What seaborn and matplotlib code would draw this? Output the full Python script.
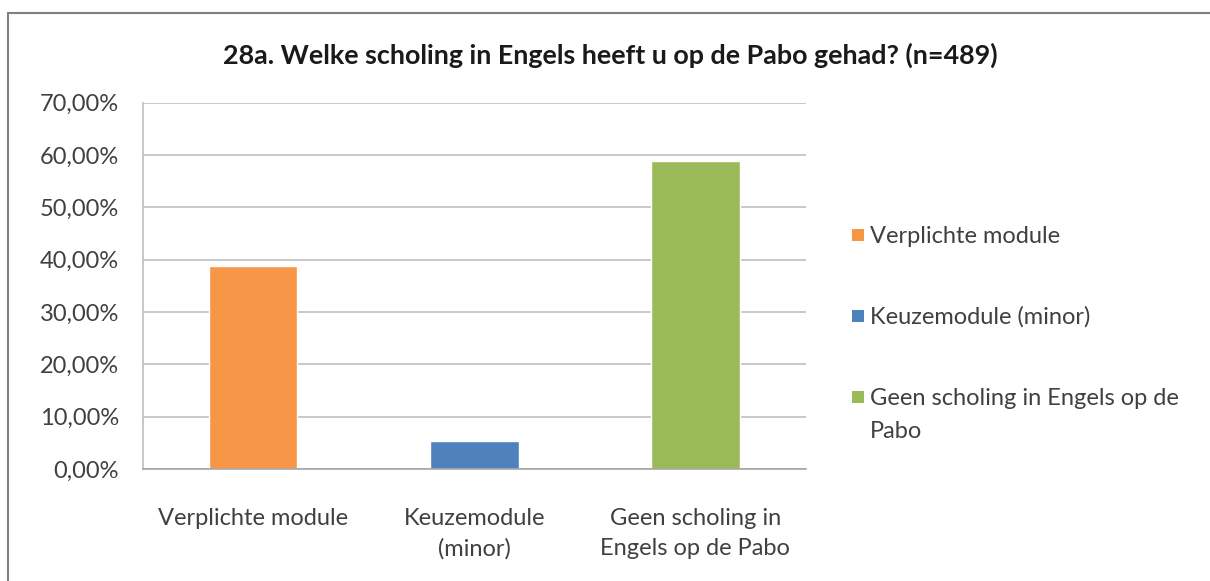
import pandas as pd
import matplotlib.pyplot as plt
import seaborn as sns
from matplotlib.patches import Rectangle
from matplotlib.lines import Line2D

# Chart data
categories = ["Verplichte module", "Keuzemodule (minor)", "Geen scholing in Engels op de Pabo"]
tick_labels = ["Verplichte module", "Keuzemodule\n(minor)", "Geen scholing in\nEngels op de Pabo"]
legend_labels = ["Verplichte module", "Keuzemodule (minor)", "Geen scholing in Engels op de\nPabo"]
percentages = [38.8, 5.4, 58.9]
colors = ["#F79646", "#4F81BD", "#9BBB59"]

df = pd.DataFrame({"category": categories, "pct": percentages})

sns.set_style("white")
plt.rcParams['font.family'] = ['Lato', 'DejaVu Sans']

W, H = 1210, 581
fig = plt.figure(figsize=(W / 100, H / 100), dpi=100)
ax = fig.add_axes([0.118, 0.193, 0.548, 0.630])

sns.barplot(data=df, x="category", y="pct", hue="category", palette=colors,
            width=0.4, legend=False, ax=ax, saturation=1)

ax.set_ylim(0, 70)
ax.set_xlim(-0.5, 2.5)
ax.set_yticks(range(0, 71, 10))
ax.set_yticklabels([f"{v},00%" for v in range(0, 71, 10)], fontsize=17, color="#404040")
ax.set_xticks(range(3))
ax.set_xticklabels(tick_labels, fontsize=17, color="#404040", linespacing=1.55)
ax.tick_params(axis="both", length=0)
ax.tick_params(axis="y", pad=17)
ax.tick_params(axis="x", pad=28)
ax.set_xlabel("")
ax.set_ylabel("")
ax.yaxis.grid(True, color="#BFBFBF", linewidth=1.2)
ax.set_axisbelow(True)
for s in ["top", "right"]:
    ax.spines[s].set_visible(False)
ax.spines["left"].set_color("#BFBFBF")
ax.spines["bottom"].set_color("#A6A6A6")
ax.spines["left"].set_linewidth(1.2)
ax.spines["bottom"].set_linewidth(1.2)

fig.text(0.504, 0.905, "28a. Welke scholing in Engels heeft u op de Pabo gehad? (n=489)",
         ha="center", va="center", fontsize=19.4, fontweight="bold", color="#1a1a1a")

# legend on the right: colour square + label, first line aligned with the square
for i, (lab, c) in enumerate(zip(legend_labels, colors)):
    yc = 235 + i * 81
    fig.add_artist(Rectangle((852 / W, 1 - (yc + 6) / H), 12 / W, 12 / H,
                             facecolor=c, edgecolor="none", transform=fig.transFigure))
    for j, line in enumerate(lab.split("\n")):
        fig.text(870 / W, 1 - (yc + 8 + j * 33) / H, line, ha="left", va="baseline",
                 fontsize=17, color="#404040")

# outer chart frame (left and top edges visible)
fig.add_artist(Line2D([8 / W, 8 / W], [0, 1 - 13 / H], color="#7f7f7f", linewidth=1.5))
fig.add_artist(Line2D([8 / W, 1], [1 - 13 / H, 1 - 13 / H], color="#7f7f7f", linewidth=1.5))

fig.savefig("out.png", dpi=100)
